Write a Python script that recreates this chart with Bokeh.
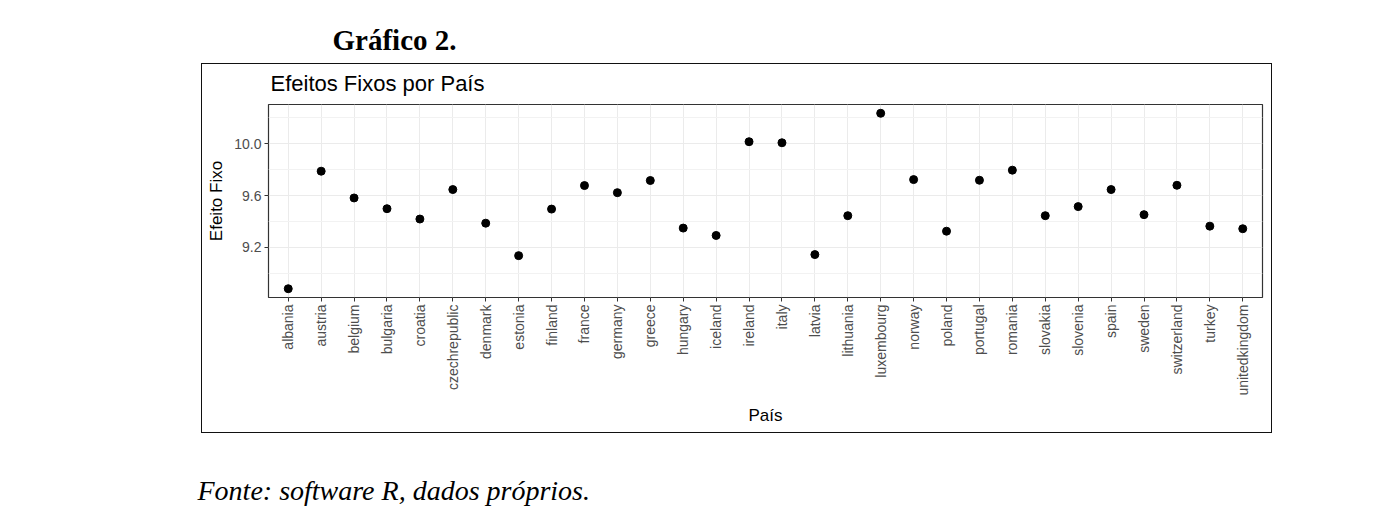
from bokeh.plotting import figure
from bokeh.models import (FactorRange, Range1d, FixedTicker, Title, ColumnDataSource,
                          PrintfTickFormatter, InlineStyleSheet)
from bokeh.embed import file_html
from bokeh.resources import INLINE
import math

# ---- data ----
countries = ["albania", "austria", "belgium", "bulgaria", "croatia", "czechrepublic",
             "denmark", "estonia", "finland", "france", "germany", "greece", "hungary",
             "iceland", "ireland", "italy", "latvia", "lithuania", "luxembourg", "norway",
             "poland", "portugal", "romania", "slovakia", "slovenia", "spain", "sweden",
             "switzerland", "turkey", "unitedkingdom"]
efeito_fixo = [8.879, 9.788, 9.581, 9.498, 9.418, 9.646,
               9.386, 9.135, 9.495, 9.677, 9.622, 9.716, 9.348,
               9.291, 10.016, 10.008, 9.143, 9.444, 10.236, 9.723,
               9.324, 9.718, 9.796, 9.444, 9.514, 9.646, 9.452,
               9.679, 9.363, 9.343]
y_major_ticks = [9.2, 9.6, 10.0]
y_minor_ticks = [9.0, 9.4, 9.8, 10.2]

header_text = "Gráfico 2."
title_text = "Efeitos Fixos por País"
x_label = "País"
y_label = "Efeito Fixo"
footer_text = "Fonte: software R, dados próprios."

# ---- ranges (ggplot-like 5% expansion) ----
lo, hi = min(efeito_fixo), max(efeito_fixo)
span = hi - lo
y_range = Range1d(lo - 0.05 * span, hi + 0.05 * span)
x_range = FactorRange(factors=countries, range_padding=0.2 / len(countries),
                      range_padding_units="percent")

W, H = 1392, 517
box_css = (":host::after {content: ''; position: absolute; left: 201px; top: 63px;"
           " width: 1071px; height: 370px; border: 1.6px solid #111;"
           " box-sizing: border-box; pointer-events: none;}")

p = figure(width=W, height=H, x_range=x_range, y_range=y_range,
           output_backend="svg", toolbar_location=None,
           min_border_left=268, min_border_right=W - 1262,
           min_border_top=104, min_border_bottom=H - 297,
           title=header_text)
p.stylesheets = [InlineStyleSheet(css=box_css)]
p.background_fill_color = "white"
p.border_fill_color = "white"
p.outline_line_color = "#333333"
p.outline_line_width = 1.2

src = ColumnDataSource(dict(x=countries, y=efeito_fixo))
p.scatter("x", "y", source=src, size=8, color="black")

# grids
p.xgrid.grid_line_color = "#EBEBEB"
p.xgrid.grid_line_width = 1
p.ygrid.grid_line_color = "#EBEBEB"
p.ygrid.grid_line_width = 1
p.ygrid.minor_grid_line_color = "#F2F2F2"
p.ygrid.minor_grid_line_width = 1
p.yaxis.ticker = FixedTicker(ticks=y_major_ticks, minor_ticks=y_minor_ticks)
p.yaxis.formatter = PrintfTickFormatter(format="%.1f")

for ax in (p.xaxis[0], p.yaxis[0]):
    ax.axis_line_color = None
    ax.major_tick_line_color = "#333333"
    ax.major_tick_in = 0
    ax.major_tick_out = 4
    ax.minor_tick_line_color = None
    ax.major_label_text_color = "#4D4D4D"
    ax.major_label_text_font = "Liberation Sans"
    ax.major_label_text_font_size = "14px"
    ax.axis_label_text_font = "Liberation Sans"
    ax.axis_label_text_font_size = "17px"
    ax.axis_label_text_font_style = "normal"
    ax.axis_label_text_color = "black"
    ax.major_label_standoff = 3

p.yaxis.axis_label = y_label
p.yaxis.axis_label_standoff = 5
p.xaxis.axis_label = x_label
p.xaxis.major_label_orientation = math.pi / 2
p.xaxis.axis_label_standoff = 7

# header (outermost title)
p.title.align = "left"
p.title.offset = 64
p.title.text_font = "Liberation Serif"
p.title.text_font_style = "bold"
p.title.text_font_size = "29px"
p.title.text_color = "black"
p.title.standoff = 9

# plot title (nearest the frame)
p.add_layout(Title(text=title_text, align="left", offset=2,
                   text_font="Liberation Sans", text_font_style="normal",
                   text_font_size="22px", text_color="black", standoff=17), "above")
# spacer between x axis and footer
p.add_layout(Title(text=" ", text_font_size="10px", standoff=32), "below")
# footer below
p.add_layout(Title(text=footer_text, align="left", offset=-71,
                   text_font="Liberation Serif", text_font_style="italic",
                   text_font_size="28px", text_color="black", standoff=0,
                   vertical_align="bottom"), "below")

open("out.html", "w").write(file_html(p, INLINE))
